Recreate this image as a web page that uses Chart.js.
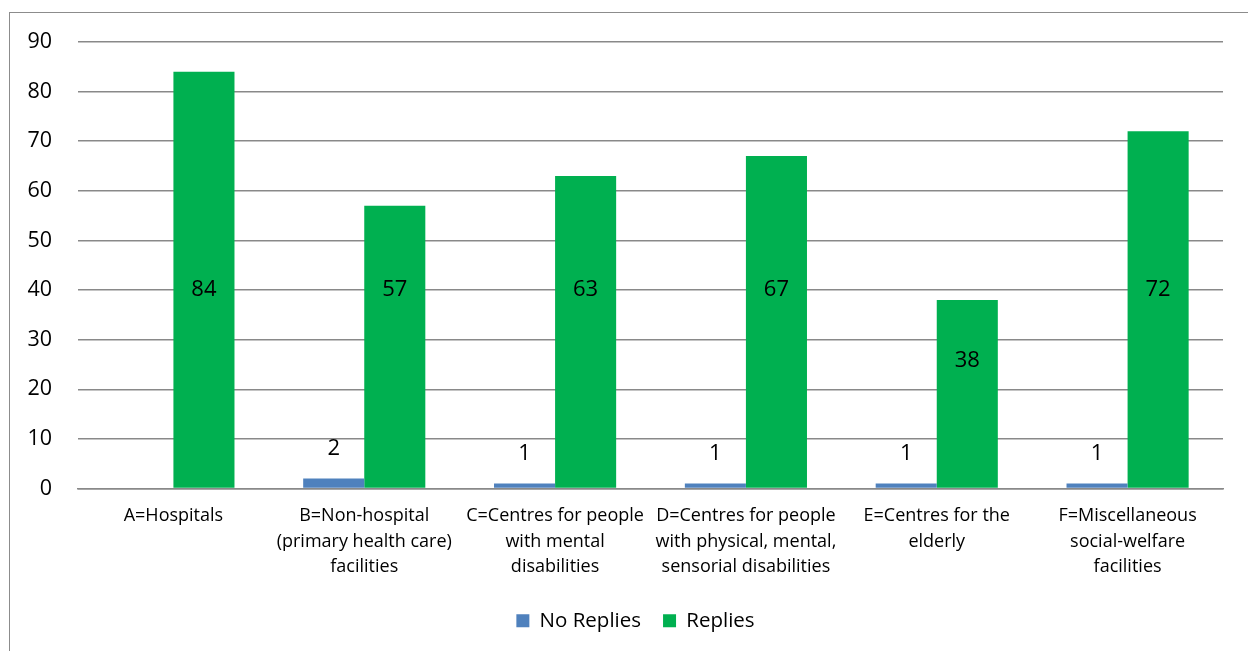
<!DOCTYPE html>
<html>
<head>
<meta charset="utf-8">
<script src="https://cdn.jsdelivr.net/npm/chart.js@4.4.1/dist/chart.umd.min.js"></script>
<style>
  html, body { margin: 0; padding: 0; background: #fff; overflow: hidden; }
  #wrap { position: relative; width: 1248px; height: 651px; }
  #frame { position: absolute; left: 9px; top: 12px; width: 1400px; height: 800px; border: 1px solid #8c8c8c; box-sizing: border-box; }
  canvas { position: absolute; left: 0; top: 0; }
</style>
</head>
<body>
<div id="wrap">
  <div id="frame"></div>
  <canvas id="c" width="1248" height="651"></canvas>
</div>
<script>
const categories = [
  ["A=Hospitals"],
  ["B=Non-hospital", "(primary health care)", "facilities"],
  ["C=Centres for people", "with mental", "disabilities"],
  ["D=Centres for people", "with physical, mental,", "sensorial disabilities"],
  ["E=Centres for the", "elderly"],
  ["F=Miscellaneous", "social-welfare", "facilities"]
];
const noReplies = [0, 2, 1, 1, 1, 1];
const replies = [84, 57, 63, 67, 38, 72];
const yTicks = [0, 10, 20, 30, 40, 50, 60, 70, 80, 90];

const FONT = "'Open Sans', sans-serif";

const labelPlugin = {
  id: 'valueLabels',
  afterLayout(chart) {
    if (chart.legend) { chart.legend.left += 19; chart.legend.right += 19; }
  },
  afterDatasetsDraw(chart) {
    const ctx = chart.ctx;
    const y = chart.scales.y;
    ctx.save();
    ctx.fillStyle = '#000';
    ctx.font = '22px ' + FONT;
    ctx.textAlign = 'center';
    ctx.textBaseline = 'middle';
    chart.data.datasets.forEach((ds, di) => {
      const meta = chart.getDatasetMeta(di);
      meta.data.forEach((bar, i) => {
        const v = ds.data[i];
        if (!v) return;
        let py;
        if (di === 1) {
          py = y.getPixelForValue(v > 45 ? 40 : v * 0.68);
        } else {
          py = bar.y - 30;
        }
        ctx.fillText(String(v), bar.x, py);
      });
    });
    ctx.restore();
  }
};

new Chart(document.getElementById('c'), {
  type: 'bar',
  data: {
    labels: categories,
    datasets: [
      { label: 'No Replies', data: noReplies, backgroundColor: '#4F81BD', categoryPercentage: 0.64, barPercentage: 1.0 },
      { label: 'Replies', data: replies, backgroundColor: '#00B050', categoryPercentage: 0.64, barPercentage: 1.0 }
    ]
  },
  options: {
    responsive: false,
    animation: false,
    devicePixelRatio: 1,
    layout: { padding: { left: 10, right: 25, top: 42, bottom: 10 } },
    plugins: {
      legend: {
        position: 'bottom',
        labels: {
          boxWidth: 13, boxHeight: 13, padding: 22,
          color: '#000',
          font: { size: 20.5, family: FONT }
        }
      },
      tooltip: { enabled: false }
    },
    scales: {
      x: {
        grid: { display: false, drawTicks: false },
        border: { display: true, color: '#898989', width: 1.5 },
        ticks: {
          color: '#000', padding: 15, maxRotation: 0, autoSkip: false,
          font: { size: 18, family: FONT, lineHeight: '25.5px' }
        },
        afterFit(axis) { axis.height = 100; }
      },
      y: {
        min: 0, max: 90,
        afterBuildTicks(axis) { axis.ticks = yTicks.map(v => ({ value: v })); },
        grid: { color: '#898989', lineWidth: 1.5, drawTicks: false },
        border: { display: false },
        ticks: {
          color: '#000', padding: 26,
          font: { size: 21.5, family: FONT }
        },
        afterFit(axis) { axis.width = 68; }
      }
    }
  },
  plugins: [labelPlugin]
});
</script>
</body>
</html>
